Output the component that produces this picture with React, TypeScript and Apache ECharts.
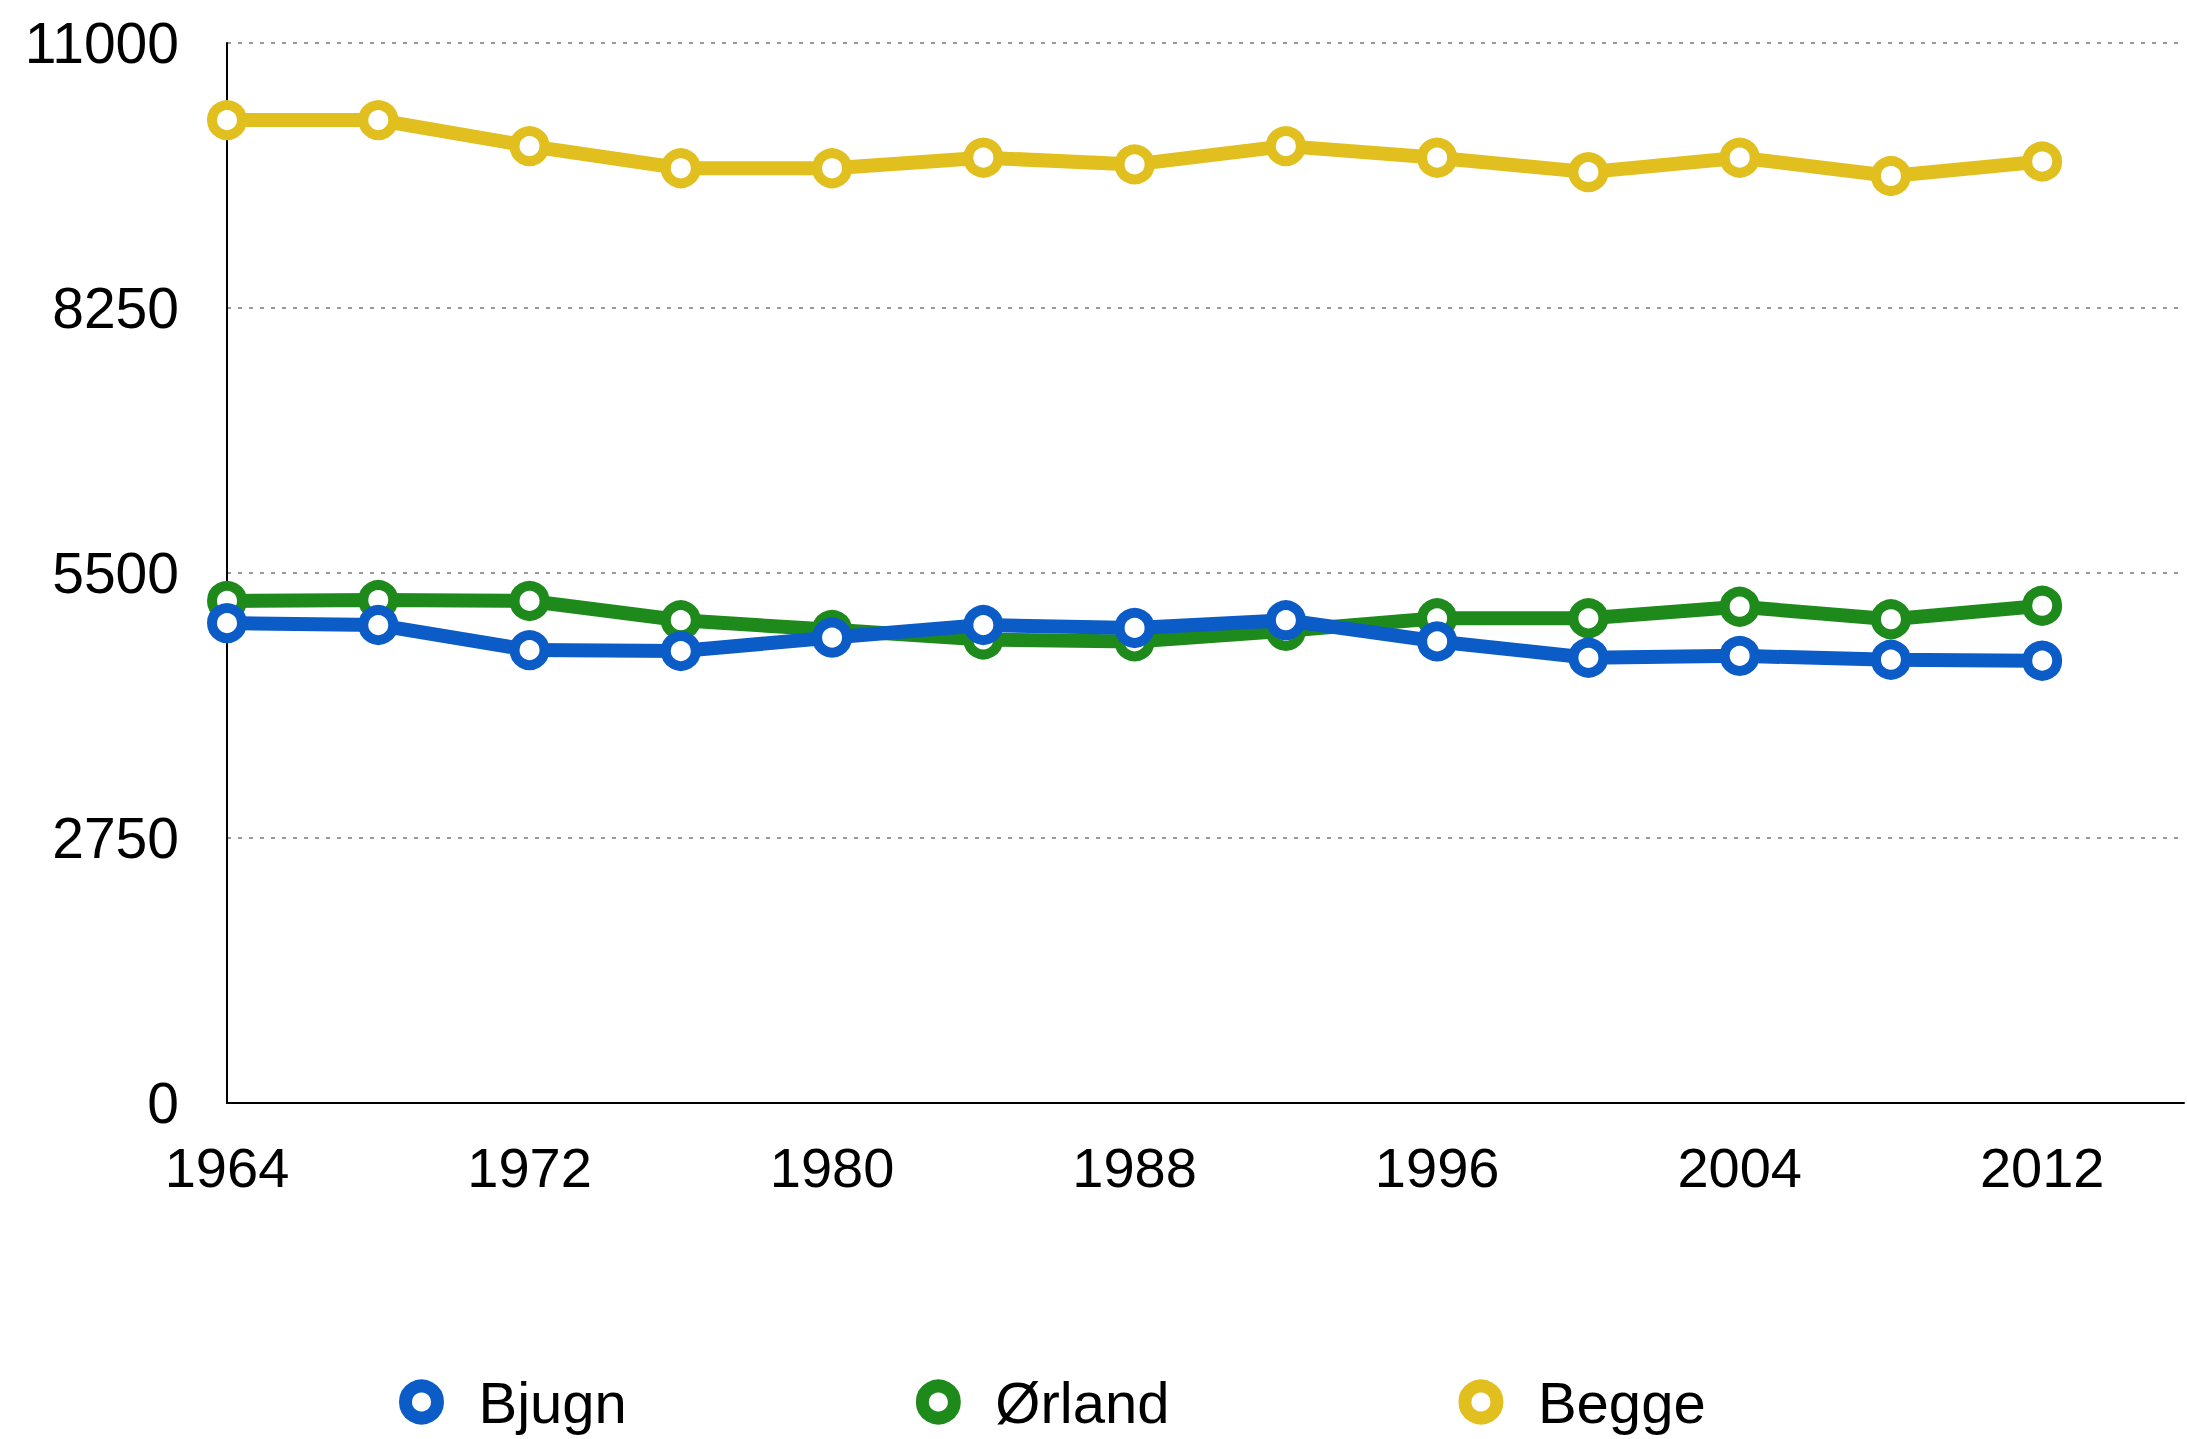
import React, { useEffect, useRef } from "react";
import * as echarts from "echarts";

const years = [1964, 1968, 1972, 1976, 1980, 1984, 1988, 1992, 1996, 2000, 2004, 2008, 2012];
const bjugn = [4980, 4960, 4700, 4690, 4830, 4960, 4930, 5010, 4790, 4620, 4640, 4600, 4590];
const orland = [5210, 5220, 5210, 5010, 4910, 4810, 4790, 4900, 5030, 5030, 5150, 5020, 5160];
const begge = [10200, 10200, 9930, 9700, 9700, 9810, 9740, 9930, 9810, 9660, 9810, 9620, 9770];
const seriesNames = ["Bjugn", "Ørland", "Begge"];
const seriesColors = ["#0b5cc6", "#1f8a1c", "#e1bf1e"];

const FONT = "'Liberation Sans', Arial, Helvetica, sans-serif";

export default function App() {
  const ref = useRef<HTMLDivElement>(null);
  useEffect(() => {
    if (!ref.current) return;
    const chart = echarts.init(ref.current, undefined, { renderer: "svg" });
    const datasets = [bjugn, orland, begge];
    const zs = [5, 4, 3];
    chart.setOption({
      animation: false,
      backgroundColor: "#ffffff",
      grid: { left: 227, top: 43, bottom: 336, right: 0, containLabel: false },
      xAxis: {
        type: "value",
        min: 1964,
        max: 2015.75,
        interval: 8,
        axisLine: { show: true, onZero: false, lineStyle: { color: "#000", width: 2 } },
        axisTick: { show: false },
        splitLine: { show: false },
        axisLabel: {
          color: "#000",
          fontSize: 56,
          fontFamily: FONT,
          margin: 36,
          formatter: (v: number) => ((v - 1964) % 8 === 0 && v <= 2012 ? String(v) : ""),
        },
      },
      yAxis: {
        type: "value",
        min: 0,
        max: 11000,
        interval: 2750,
        axisLine: { show: true, lineStyle: { color: "#000", width: 2 } },
        axisTick: { show: false },
        splitLine: { show: true, lineStyle: { color: "#999", width: 2, type: [4, 7] } },
        axisLabel: {
          color: "#000",
          fontSize: 57,
          fontFamily: FONT,
          margin: 48,
          formatter: (v: number) => String(v),
        },
      },
      legend: {
        left: 394,
        top: 1367,
        orient: "horizontal",
        icon: "circle",
        itemWidth: 32,
        itemHeight: 32,
        itemGap: 289,
        data: seriesNames,
        itemStyle: { color: "#ffffff", borderWidth: 13 },
        textStyle: { color: "#000", fontSize: 58, lineHeight: 60, fontFamily: FONT, padding: [0, 0, 0, 36] },
      },
      series: seriesNames.map((name, i) => ({
        name,
        type: "line",
        z: zs[i],
        data: years.map((y, j) => [y, datasets[i][j]]),
        symbol: "circle",
        symbolSize: 30,
        showSymbol: true,
        lineStyle: { color: seriesColors[i], width: 14 },
        itemStyle: { color: "#ffffff", borderColor: seriesColors[i], borderWidth: 10 },
        emphasis: { disabled: true },
      })),
    });
    return () => chart.dispose();
  }, []);
  return (
    <div
      ref={ref}
      style={{ position: "absolute", left: 0, top: 0, width: 2187, height: 1439, overflow: "hidden" }}
    />
  );
}
